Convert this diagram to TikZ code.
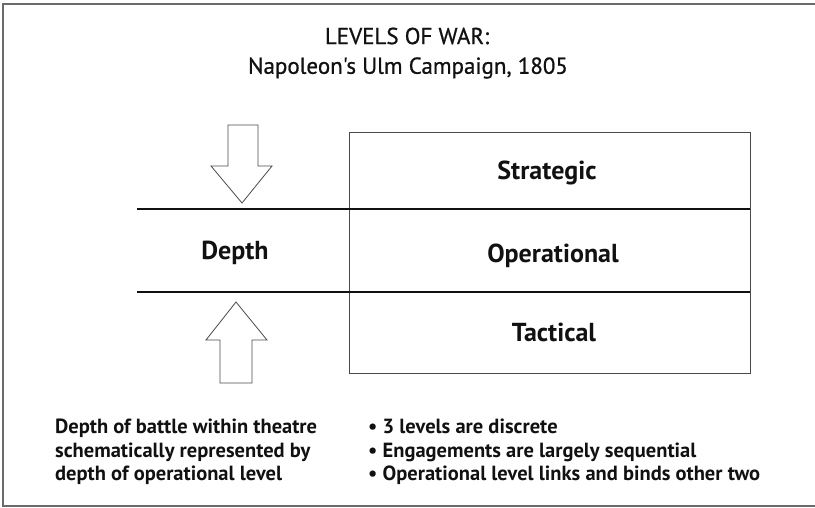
\documentclass[tikz,border=0pt]{standalone}
\usepackage{fontspec}
\setmainfont{PT Sans}
\newfontfamily\headfont[RawFeature={embolden=0.8}]{PT Sans}
\usepackage{xcolor}
\definecolor{ink}{HTML}{111111}
\definecolor{frame}{HTML}{6A6A6A}
\definecolor{edge}{HTML}{4A4A4A}

\begin{document}
\begin{tikzpicture}[x=1pt,y=-1pt,
    title/.style={font=\headfont\fontsize{23}{32}\selectfont,ink},
    level/.style={font=\bfseries\fontsize{26}{30}\selectfont,ink,anchor=base},
    note/.style={font=\bfseries\fontsize{20.5}{23.5}\selectfont,ink,
                 align=left,anchor=north west,inner sep=0pt},
    bigarrow/.style={draw=edge,line width=0.8pt,fill=white}]

  \useasboundingbox (0,0) rectangle (815,507);

  % Open frame round the sheet.
  \draw[frame,line width=1.6pt] (815,4) -- (3,4) -- (3,506) -- (815,506);

  \node[title] (head) at (407,36) {LEVELS OF WAR:};
  \node[title] (sub) at (408,68) {Napoleon's Ulm Campaign, 1805};

  % The three levels and the depth band.
  \draw[edge,line width=0.8pt] (349,132) rectangle (750,373);
  \draw[ink,line width=1.3pt] (137,209) -- (750,209);
  \draw[ink,line width=1.3pt] (137,292) -- (750,292);

  \node[level] (strat) at (547,179) {Strategic};
  \node[level] (oper) at (553,262) {Operational};
  \node[level] (tact) at (554,341) {Tactical};
  \node[level] (depth) at (235,259) {Depth};

  % Hollow arrows pressing on the operational band.
  \draw[bigarrow] (228,125) -- (258,125) -- (258,166) -- (272,166)
    -- (242,203) -- (211,166) -- (228,166) -- cycle;
  \draw[bigarrow] (220,383) -- (252,383) -- (252,340) -- (267,340)
    -- (236,302) -- (206,340) -- (220,340) -- cycle;

  \node[note] (depthnote) at (55,419)
    {Depth of battle within theatre\\
     schematically represented by\\
     depth of operational level};
  \node[note] (points) at (368,419)
    {\textbullet\ 3 levels are discrete\\
     \textbullet\ Engagements are largely sequential\\
     \textbullet\ Operational level links and binds other two};
\end{tikzpicture}
\end{document}
